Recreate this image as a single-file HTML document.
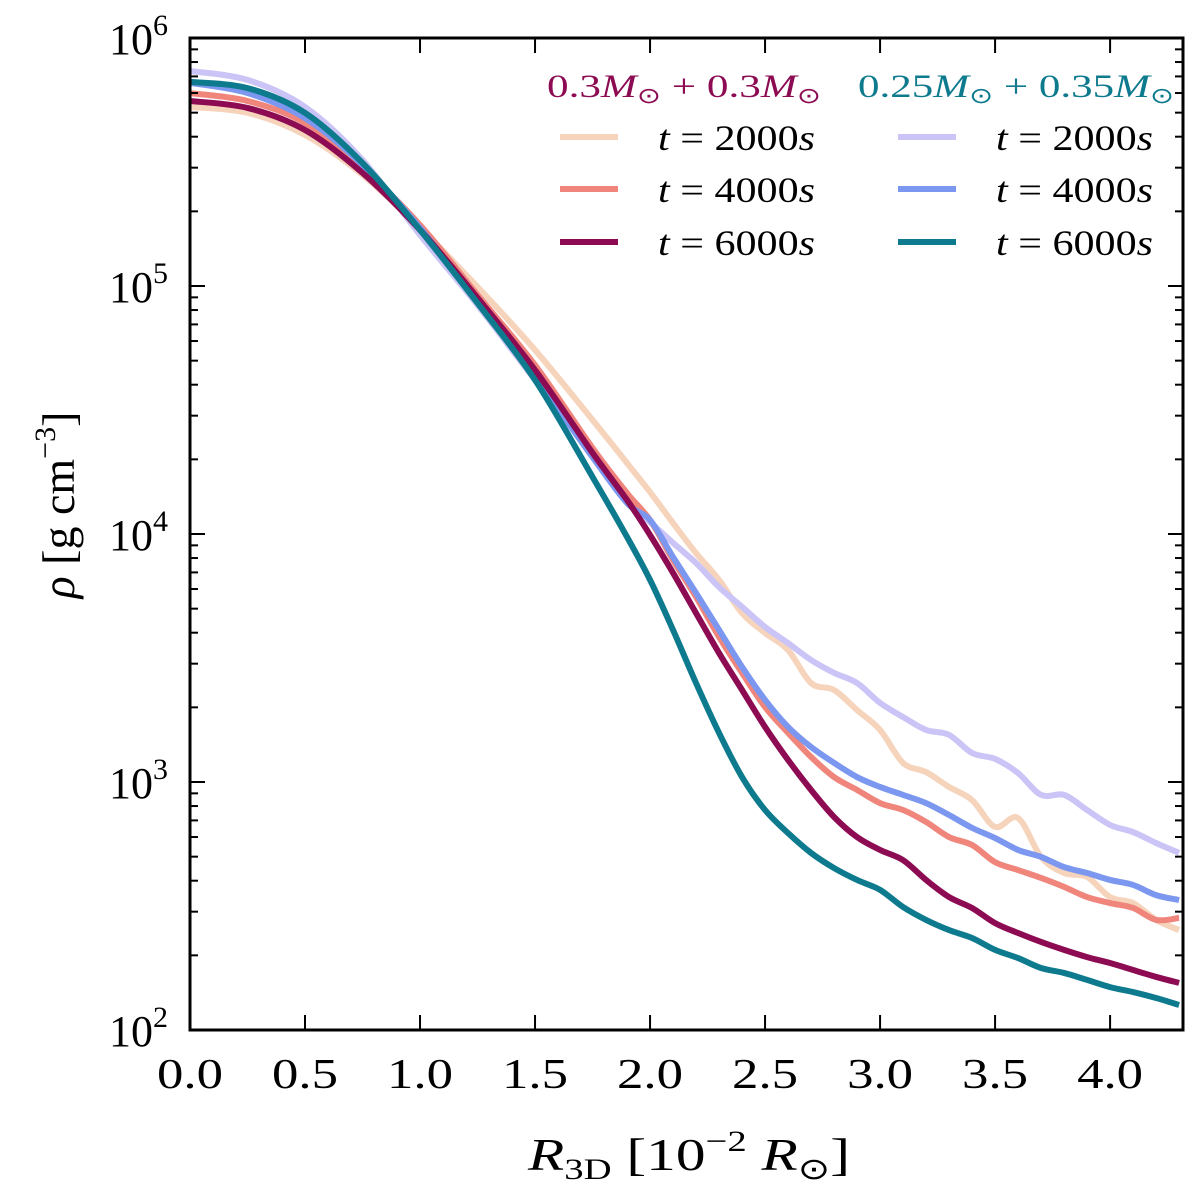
<!DOCTYPE html>
<html><head><meta charset="utf-8"><style>
body{margin:0;background:#fff;}
svg text{font-family:"Liberation Serif",serif;fill:#000;}
</style></head><body>
<svg id="chart" width="1200" height="1197" viewBox="0 0 1200 1197" xmlns="http://www.w3.org/2000/svg" style="position:absolute;left:0;top:0"></svg>
<script>
const xs = [0,0.25,0.5,0.75,1.0,1.25,1.5,1.75,1.9,2.0,2.1,2.2,2.3,2.4,2.5,2.6,2.7,2.8,2.9,3.0,3.1,3.2,3.3,3.4,3.5,3.6,3.7,3.8,3.9,4.0,4.1,4.2,4.3];
// log10(rho [g cm^-3]) values
const peach2000 = [5.722,5.698,5.609,5.448,5.234,4.996,4.742,4.460,4.286,4.169,4.044,3.923,3.815,3.681,3.601,3.532,3.399,3.371,3.290,3.210,3.077,3.040,2.980,2.927,2.819,2.855,2.698,2.633,2.617,2.536,2.512,2.444,2.403];
const red4000 = [5.778,5.746,5.657,5.476,5.246,4.964,4.681,4.347,4.165,4.056,3.895,3.746,3.585,3.440,3.302,3.198,3.101,3.020,2.968,2.915,2.887,2.839,2.778,2.746,2.677,2.645,2.613,2.577,2.536,2.512,2.492,2.444,2.452];
const purple6000 = [5.746,5.718,5.629,5.456,5.226,4.952,4.661,4.327,4.137,3.996,3.843,3.681,3.520,3.371,3.222,3.089,2.968,2.859,2.778,2.726,2.685,2.605,2.536,2.492,2.431,2.391,2.355,2.323,2.294,2.270,2.242,2.214,2.190];
const lav2000 = [5.867,5.831,5.722,5.508,5.206,4.923,4.621,4.327,4.129,4.048,3.964,3.883,3.786,3.706,3.625,3.560,3.492,3.440,3.399,3.319,3.262,3.210,3.190,3.117,3.093,3.036,2.948,2.948,2.887,2.827,2.798,2.754,2.714];
const blue4000 = [5.819,5.778,5.677,5.488,5.234,4.935,4.633,4.310,4.125,4.056,3.907,3.762,3.613,3.464,3.331,3.222,3.141,3.077,3.020,2.980,2.948,2.915,2.867,2.815,2.774,2.726,2.698,2.657,2.633,2.605,2.585,2.544,2.524];
const teal6000 = [5.823,5.798,5.698,5.496,5.226,4.931,4.621,4.230,3.988,3.815,3.613,3.399,3.198,3.020,2.887,2.794,2.714,2.653,2.605,2.565,2.496,2.444,2.403,2.371,2.323,2.290,2.250,2.230,2.202,2.173,2.153,2.129,2.101];
const xTicks = [0,0.5,1.0,1.5,2.0,2.5,3.0,3.5,4.0];
const xTickLabels = ["0.0","0.5","1.0","1.5","2.0","2.5","3.0","3.5","4.0"];
const yDecades = [2,3,4,5,6];

const NS="http://www.w3.org/2000/svg";
const svg=document.getElementById('chart');
const L=190,R=1183,T=38,B=1030;
const xMax=4.317, yMin=2, yMax=6;
const X=v=>L+(v/xMax)*(R-L);
const Y=v=>B-(v-yMin)/(yMax-yMin)*(B-T);
function mk(tag,attrs,parent){const e=document.createElementNS(NS,tag);for(const k in attrs)e.setAttribute(k,attrs[k]);(parent||svg).appendChild(e);return e;}

const series=[
 {d:peach2000,c:"#f6d3bb",n:"series-0.3-t2000"},
 {d:lav2000,c:"#cbc4f6",n:"series-0.25-t2000"},
 {d:red4000,c:"#f0857c",n:"series-0.3-t4000"},
 {d:blue4000,c:"#7c97ef",n:"series-0.25-t4000"},
 {d:purple6000,c:"#8c0b52",n:"series-0.3-t6000"},
 {d:teal6000,c:"#0d7a8e",n:"series-0.25-t6000"}
];
const clip=mk('clipPath',{id:'pc'});mk('rect',{x:L,y:T,width:R-L,height:B-T},clip);
const g=mk('g',{'clip-path':'url(#pc)'});
series.forEach(s=>{
 let pts=xs.map((x,i)=>[X(x),Y(s.d[i])]);
 let d="M"+pts[0][0]+","+pts[0][1];
 for(let i=0;i<pts.length-1;i++){const p0=pts[Math.max(0,i-1)],p1=pts[i],p2=pts[i+1],p3=pts[Math.min(pts.length-1,i+2)];
  d+=" C"+(p1[0]+(p2[0]-p0[0])/6)+","+(p1[1]+(p2[1]-p0[1])/6)+" "+(p2[0]-(p3[0]-p1[0])/6)+","+(p2[1]-(p3[1]-p1[1])/6)+" "+p2[0]+","+p2[1];}
 const p=mk('path',{d:d,fill:'none',stroke:s.c,'stroke-width':6,'stroke-linejoin':'round'},g);
 
 
});

mk('rect',{x:L,y:T,width:R-L,height:B-T,fill:'none',stroke:'#000','stroke-width':3,});

xTicks.forEach((v,i)=>{const x=X(v);
 mk('line',{x1:x,y1:B,x2:x,y2:B-15,stroke:'#000','stroke-width':2});
 mk('line',{x1:x,y1:T,x2:x,y2:T+15,stroke:'#000','stroke-width':2});
 const t=mk('text',{x:x,y:B+58,'font-size':42,'text-anchor':'middle',textLength:66,lengthAdjust:'spacingAndGlyphs'});t.textContent=xTickLabels[i];
 
 
});
yDecades.forEach(dv=>{const y=Y(dv);
 mk('line',{x1:L,y1:y,x2:L+15,y2:y,stroke:'#000','stroke-width':2});
 mk('line',{x1:R,y1:y,x2:R-15,y2:y,stroke:'#000','stroke-width':2});
 const t=mk('text',{x:L-22,y:y+16,'font-size':44,'text-anchor':'end'});
 t.innerHTML='10<tspan dy="-19" font-size="30">'+dv+'</tspan>';
 
 
 if(dv<6){for(let m=2;m<=9;m++){const yy=Y(dv+Math.log10(m));
  mk('line',{x1:L,y1:yy,x2:L+8,y2:yy,stroke:'#000','stroke-width':2});
  mk('line',{x1:R,y1:yy,x2:R-8,y2:yy,stroke:'#000','stroke-width':2});}}
});
</script>
<svg width="1200" height="1197" xmlns="http://www.w3.org/2000/svg" style="position:absolute;left:0;top:0;pointer-events:none">
 <g>
  <text x="528" y="1170" font-size="46" font-family="Liberation Serif,serif" textLength="322" lengthAdjust="spacingAndGlyphs"><tspan font-style="italic">R</tspan><tspan font-size="30" dy="9">3D</tspan><tspan dy="-9"> [10</tspan><tspan font-size="30" dy="-19">−2</tspan><tspan dy="19"> </tspan><tspan font-style="italic">R</tspan><tspan font-size="30" dy="9">⊙</tspan><tspan dy="-9">]</tspan></text>
 </g>
 <g transform="translate(74,505) rotate(-90)">
  <text x="0" y="0" font-size="46" text-anchor="middle" font-family="Liberation Serif,serif"><tspan font-style="italic">ρ</tspan> [g cm<tspan font-size="30" dy="-19">−3</tspan><tspan dy="19">]</tspan></text>
 </g>
 <g font-family="Liberation Serif,serif">
  <text x="547" y="97" font-size="33" style="fill:#8c0b52" textLength="274" lengthAdjust="spacingAndGlyphs">0.3<tspan font-style="italic">M</tspan><tspan font-size="22" dy="6">⊙</tspan><tspan dy="-6"> + 0.3</tspan><tspan font-style="italic">M</tspan><tspan font-size="22" dy="6">⊙</tspan></text>
  <text x="858" y="97" font-size="33" style="fill:#0d7a8e" textLength="316" lengthAdjust="spacingAndGlyphs">0.25<tspan font-style="italic">M</tspan><tspan font-size="22" dy="6">⊙</tspan><tspan dy="-6"> + 0.35</tspan><tspan font-style="italic">M</tspan><tspan font-size="22" dy="6">⊙</tspan></text>
  <line x1="560" y1="137" x2="618" y2="137" stroke="#f6d3bb" stroke-width="6"/>
  <line x1="560" y1="189" x2="618" y2="189" stroke="#f0857c" stroke-width="6"/>
  <line x1="560" y1="242" x2="618" y2="242" stroke="#8c0b52" stroke-width="6"/>
  <line x1="898" y1="137" x2="956" y2="137" stroke="#cbc4f6" stroke-width="6"/>
  <line x1="898" y1="189" x2="956" y2="189" stroke="#7c97ef" stroke-width="6"/>
  <line x1="898" y1="242" x2="956" y2="242" stroke="#0d7a8e" stroke-width="6"/>
  <text x="658" y="150" font-size="36" textLength="157" lengthAdjust="spacingAndGlyphs"><tspan font-style="italic">t</tspan> = 2000<tspan font-style="italic">s</tspan></text>
  <text x="658" y="202" font-size="36" textLength="157" lengthAdjust="spacingAndGlyphs"><tspan font-style="italic">t</tspan> = 4000<tspan font-style="italic">s</tspan></text>
  <text x="658" y="255" font-size="36" textLength="157" lengthAdjust="spacingAndGlyphs"><tspan font-style="italic">t</tspan> = 6000<tspan font-style="italic">s</tspan></text>
  <text x="996" y="150" font-size="36" textLength="157" lengthAdjust="spacingAndGlyphs"><tspan font-style="italic">t</tspan> = 2000<tspan font-style="italic">s</tspan></text>
  <text x="996" y="202" font-size="36" textLength="157" lengthAdjust="spacingAndGlyphs"><tspan font-style="italic">t</tspan> = 4000<tspan font-style="italic">s</tspan></text>
  <text x="996" y="255" font-size="36" textLength="157" lengthAdjust="spacingAndGlyphs"><tspan font-style="italic">t</tspan> = 6000<tspan font-style="italic">s</tspan></text>
 </g>
</svg>
</body></html>
